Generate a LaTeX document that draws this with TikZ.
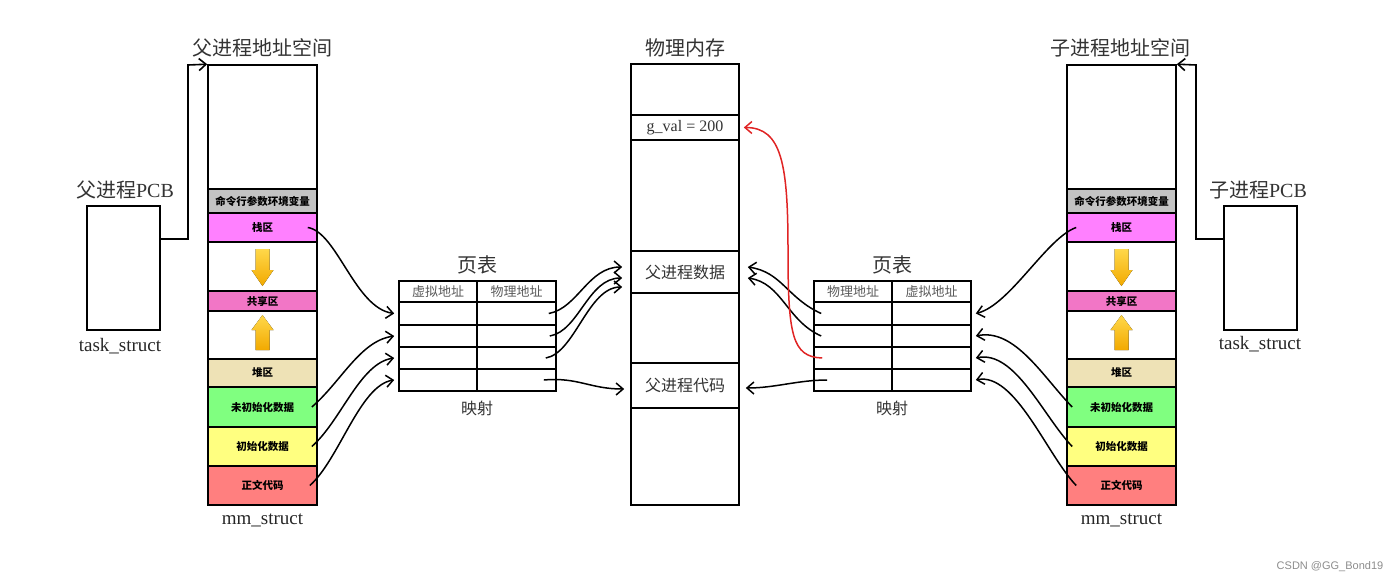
\documentclass[tikz,border=0pt]{standalone}
\usepackage{fontspec}
\setmainfont{Liberation Serif}
\newfontfamily\cjk{Noto Sans CJK SC}
\newfontfamily\wmfont{Liberation Sans}
\usetikzlibrary{arrows.meta}
\definecolor{cmdgray}{HTML}{C3C3C3}
\definecolor{stackpink}{HTML}{FF80FF}
\definecolor{sharepink}{HTML}{F276C6}
\definecolor{heapbeige}{HTML}{EEE2B6}
\definecolor{bssgreen}{HTML}{80FF80}
\definecolor{datayellow}{HTML}{FFFF80}
\definecolor{textred}{HTML}{FF7F7F}
\definecolor{arrowlight}{HTML}{FFD84A}
\definecolor{arrowdark}{HTML}{F2A900}
\definecolor{memred}{HTML}{E02424}

\begin{document}
\begin{tikzpicture}[x=1pt,y=-1pt,
    seg/.style={draw, line width=1.6pt, minimum width=109, inner sep=0pt,
        font=\cjk\bfseries\fontsize{10.5}{12}\selectfont},
    mem/.style={draw, line width=1.6pt, minimum width=108, inner sep=0pt,
        font=\cjk\fontsize{16}{18}\selectfont, text=black!80},
    cell/.style={draw, line width=1.6pt, inner sep=0pt,
        font=\cjk\fontsize{13}{15}\selectfont, text=black!65},
    pcbbox/.style={draw, line width=1.6pt, minimum width=73, minimum height=124},
    title/.style={font=\cjk\fontsize{20}{24}\selectfont, text=black!80},
    latin/.style={font=\fontsize{19}{22}\selectfont, text=black!85},
    growarrow/.style={top color=arrowlight, bottom color=arrowdark},
    conn/.style={line width=1.5pt, -{Straight Barb[length=7pt,width=12pt]}}]
    \useasboundingbox (0,0) rectangle (1400,581);

    % the two address spaces
    \foreach \s/\cx in {l/262.5,r/1121.5}{
        \node[seg, minimum height=124] (\s-top) at (\cx,127) {};
        \node[seg, fill=cmdgray, minimum height=24] (\s-cmd) at (\cx,201) {命令行参数环境变量};
        \node[seg, fill=stackpink, minimum height=29] (\s-stack) at (\cx,227.5) {栈区};
        \node[seg, minimum height=49] (\s-gap1) at (\cx,266.5) {};
        \node[seg, fill=sharepink, minimum height=20] (\s-share) at (\cx,301) {共享区};
        \node[seg, minimum height=48] (\s-gap2) at (\cx,335) {};
        \node[seg, fill=heapbeige, minimum height=28] (\s-heap) at (\cx,373) {堆区};
        \node[seg, fill=bssgreen, minimum height=40] (\s-bss) at (\cx,407) {未初始化数据};
        \node[seg, fill=datayellow, minimum height=39] (\s-data) at (\cx,446.5) {初始化数据};
        \node[seg, fill=textred, minimum height=39] (\s-text) at (\cx,485.5) {正文代码};
        % stack grows down, heap grows up
        \fill[growarrow] (\cx-7,249) -- (\cx+7,249) -- (\cx+7,270) -- (\cx+11,270) -- (\cx,286)
            -- (\cx-11,270) -- (\cx-7,270) -- cycle;
        \fill[growarrow] (\cx-7,350) -- (\cx+7,350) -- (\cx+7,330) -- (\cx+11,330) -- (\cx,315)
            -- (\cx-11,330) -- (\cx-7,330) -- cycle;
        \node[latin] (\s-mm) at (\cx,520) {mm\_struct};
    }
    \node[title] (l-title) at (262,48) {父进程地址空间};
    \node[title] (r-title) at (1120,48) {子进程地址空间};

    % PCBs
    \node[pcbbox] (lpcb) at (123.5,268) {};
    \node[pcbbox] (rpcb) at (1260.5,268) {};
    \node[title] (lpcb-title) at (125,190) {父进程\rmfamily PCB};
    \node[title] (rpcb-title) at (1258,190) {子进程\rmfamily PCB};
    \node[latin] (lpcb-name) at (120,346) {task\_struct};
    \node[latin] (rpcb-name) at (1260,344) {task\_struct};
    \coordinate (lbend) at (188,65);
    \coordinate (rbend) at (1196,65);
    \draw[conn, line width=1.6pt] ([yshift=29pt]lpcb.east) -| (lbend) -- (l-top.north west);
    \draw[conn, line width=1.6pt] ([yshift=29pt]rpcb.west) -| (rbend) -- (r-top.north east);

    % physical memory
    \node[title] (p-title) at (685,48) {物理内存};
    \node[mem, minimum height=51] (p-top) at (685,89.5) {};
    \node[mem, minimum height=25, font=\rmfamily\fontsize{16}{18}\selectfont] (p-gval) at (685,127.5) {g\_val = 200};
    \node[mem, minimum height=111] (p-mid1) at (685,195.5) {};
    \node[mem, minimum height=42] (p-data) at (685,272) {父进程数据};
    \node[mem, minimum height=70] (p-mid2) at (685,328) {};
    \node[mem, minimum height=45] (p-code) at (685,385.5) {父进程代码};
    \node[mem, minimum height=97] (p-bot) at (685,456.5) {};

    % page tables
    \node[cell, minimum width=78, minimum height=21] (lvh) at (438,291.5) {虚拟地址};
    \node[cell, minimum width=79, minimum height=21] (lph) at (516.5,291.5) {物理地址};
    \node[cell, minimum width=78, minimum height=21] (rph) at (853,291.5) {物理地址};
    \node[cell, minimum width=79, minimum height=21] (rvh) at (931.5,291.5) {虚拟地址};
    \foreach \r/\y/\h in {1/313.5/23,2/336/22,3/358/22,4/380/22}{
        \node[cell, minimum width=78, minimum height=\h] (lv\r) at (438,\y) {};
        \node[cell, minimum width=79, minimum height=\h] (lp\r) at (516.5,\y) {};
        \node[cell, minimum width=78, minimum height=\h] (rp\r) at (853,\y) {};
        \node[cell, minimum width=79, minimum height=\h] (rv\r) at (931.5,\y) {};
    }
    \node[title] (lpt-title) at (477,265) {页表};
    \node[title] (rpt-title) at (892,265) {页表};
    \node[title, font=\cjk\fontsize{16}{18}\selectfont] (lpt-map) at (477,408) {映射};
    \node[title, font=\cjk\fontsize{16}{18}\selectfont] (rpt-map) at (892,408) {映射};

    % parent: segments -> page table -> memory
    \draw[conn] ([xshift=-10pt]l-stack.east) .. controls (337,232) and (355,308) .. ([xshift=-4pt]lv1.west);
    \draw[conn] ([xshift=-6pt]l-bss.east) .. controls (341,382) and (360,341) .. ([xshift=-4pt]lv2.west);
    \draw[conn] ([xshift=-6pt]l-data.east) .. controls (341,421) and (360,363) .. ([xshift=-4pt]lv3.west);
    \draw[conn] ([xshift=-8pt]l-text.east) .. controls (339,460) and (360,385) .. ([xshift=-4pt]lv4.west);
    \draw[conn] ([xshift=-8pt]lp1.east) .. controls (578,308) and (588,267) .. ([shift={(-8pt,5pt)}]p-data.west);
    \draw[conn] ([xshift=-7pt]lp2.east) .. controls (579,331) and (588,278) .. ([shift={(-8pt,-6pt)}]p-data.west);
    \draw[conn] ([xshift=-11pt]lp3.east) .. controls (575,353) and (588,287) .. ([shift={(-8pt,-15pt)}]p-data.west);
    \draw[conn] ([xshift=-13pt]lp4.east) .. controls (578,377) and (590,389) .. ([shift={(-6pt,-3.5pt)}]p-code.west);

    % child: segments -> page table -> memory
    \draw[conn] ([xshift=10pt]r-stack.west) .. controls (1047,237.5) and (1010,305) .. ([xshift=4pt]rv1.east);
    \draw[conn] ([xshift=6pt]r-bss.west) .. controls (1043,377) and (1015,328) .. ([xshift=4pt]rv2.east);
    \draw[conn] ([xshift=6pt]r-data.west) .. controls (1043,416) and (1015,350) .. ([xshift=4pt]rv3.east);
    \draw[conn] ([xshift=10pt]r-text.west) .. controls (1047,455) and (1015,372) .. ([xshift=4pt]rv4.east);
    \draw[conn] ([xshift=8pt]rp1.west) .. controls (787,298) and (782,272) .. ([shift={(8pt,5pt)}]p-data.east);
    \draw[conn] ([xshift=8pt]rp2.west) .. controls (787,321) and (782,283) .. ([shift={(8pt,-6pt)}]p-data.east);
    \coordinate (redup) at (788,250);
    \draw[conn, memred] ([xshift=9pt]rp3.west) .. controls (792,357) and (788,335) .. (redup)
        .. controls (788,165) and (782,127.5) .. ([xshift=4pt]p-gval.east);
    \draw[conn] ([xshift=14pt]rp4.west) .. controls (798,380) and (775,388) .. ([shift={(6pt,-2.5pt)}]p-code.east);

    \node[font=\wmfont\fontsize{11}{13}\selectfont, text=black!45] (mark) at (1330,567) {CSDN @GG\_Bond19};
\end{tikzpicture}
\end{document}
